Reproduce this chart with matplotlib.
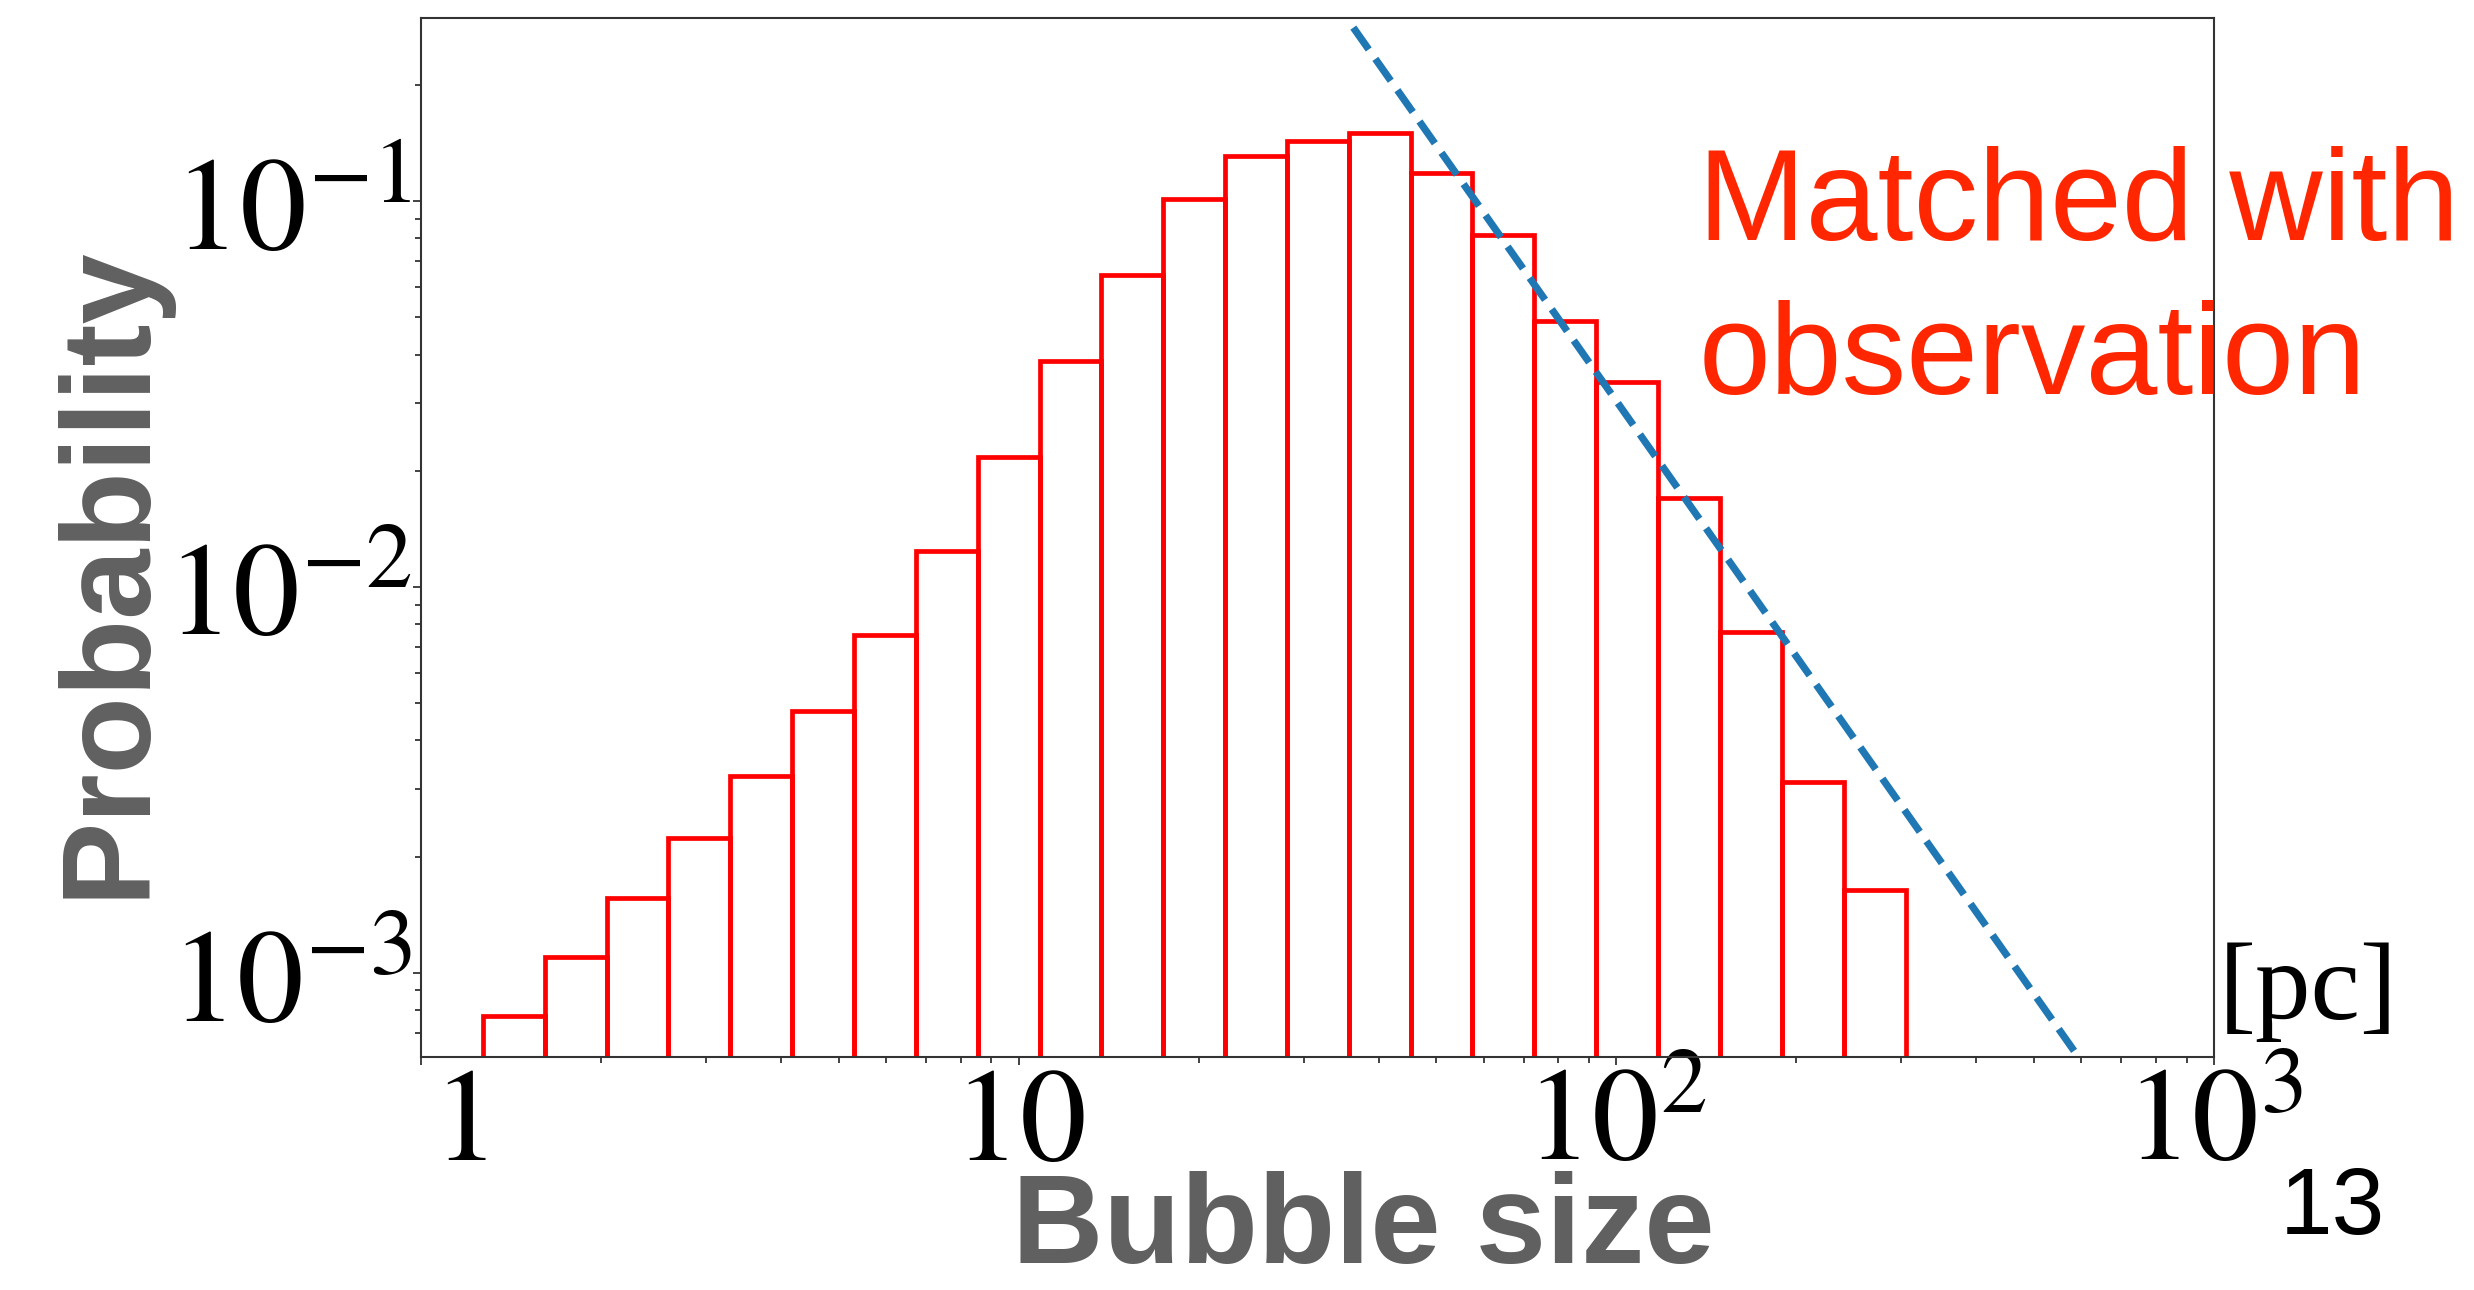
import numpy as np
import matplotlib
matplotlib.use("Agg")
import matplotlib.pyplot as plt
from matplotlib.ticker import LogLocator, NullFormatter
from matplotlib.transforms import ScaledTranslation

plt.rcParams['mathtext.fontset'] = 'stix'
plt.rcParams['font.family'] = ['Liberation Sans', 'DejaVu Sans']

# bubble size bins [pc], log spaced
bin_edges = [1.269, 1.611, 2.044, 2.594, 3.292, 4.178, 5.302, 6.728, 8.539,
             10.84, 13.75, 17.46, 22.15, 28.11, 35.67, 45.27, 57.45, 72.93,
             92.53, 117.4, 149.1, 189.2, 240.1, 304.7]
probability = [7.7e-4, 1.10e-3, 1.56e-3, 2.23e-3, 3.24e-3, 4.77e-3, 7.5e-3,
               1.24e-2, 2.17e-2, 3.84e-2, 6.43e-2, 0.101, 0.131, 0.143, 0.150,
               0.1185, 0.0816, 0.049, 0.0339, 0.0170, 7.65e-3, 3.13e-3, 1.64e-3]

# power-law guide (slope ~ -2.2 in log-log)
guide_size = [36.3, 600.0]
guide_prob = [0.2815, 5.9e-4]

x_ticks = [1, 10, 100, 1000]
x_tick_labels = ['$1$', '$10$', '$10^{2}$', '$10^{3}$']
y_ticks = [1e-3, 1e-2, 1e-1]
y_tick_labels = ['$10^{-3}$', '$10^{-2}$', '$10^{-1}$']

grey = '#606060'
note_red = '#ff2600'

fig = plt.figure(figsize=(24.74, 12.90), dpi=100)
ax = fig.add_axes([0.1702, 0.1806, 0.7247, 0.8054])

edges = np.array(bin_edges)
ax.bar(edges[:-1], probability, width=np.diff(edges), align='edge',
       bottom=1e-6, fill=False, edgecolor='#ff0000', linewidth=3.4)
ax.plot(guide_size, guide_prob, ls='--', color='#1f77b4', lw=5.2)

ax.set_xscale('log')
ax.set_yscale('log')
ax.set_xlim(1, 1000)
ax.set_ylim(6.05e-4, 0.298)

ax.set_xticks(x_ticks, x_tick_labels)
ax.set_yticks(y_ticks, y_tick_labels)
ax.xaxis.set_minor_locator(LogLocator(subs=np.arange(2, 10), numticks=50))
ax.yaxis.set_minor_locator(LogLocator(subs=np.arange(2, 10), numticks=50))
ax.xaxis.set_minor_formatter(NullFormatter())
ax.yaxis.set_minor_formatter(NullFormatter())

ax.tick_params(which='both', direction='out', top=False, right=False,
               color='#222222', width=1.2)
ax.tick_params(which='major', length=6, labelsize=96)
ax.tick_params(which='minor', length=4.5)
ax.tick_params(axis='x', which='major', pad=-2)
ax.tick_params(axis='y', which='major', pad=1)

for sp in ax.spines.values():
    sp.set_color('#333333')
    sp.set_linewidth(1.5)

# nudge the "1" label off the corner
lab0 = ax.get_xticklabels()[0]
lab0.set_transform(lab0.get_transform() + ScaledTranslation(0.38, 0, fig.dpi_scale_trans))

ax.set_xlabel('Bubble size', fontsize=91, fontweight='bold', color=grey, va='baseline')
ax.xaxis.set_label_coords(0.5254, -0.1985)
ax.set_ylabel('Probability', fontsize=91, fontweight='bold', color=grey, va='baseline')
ax.yaxis.set_label_coords(-0.1556, 0.468)

fig.text(1697.5 / 2474, 1 - 240 / 1290, 'Matched with', fontsize=93,
         color=note_red, ha='left', va='baseline')
fig.text(1699 / 2474, 1 - 394 / 1290, 'observation', fontsize=93,
         color=note_red, ha='left', va='baseline')
fig.text(2219 / 2474, 1 - 1019 / 1290, '[pc]', fontsize=80,
         family='Liberation Serif', ha='left', va='baseline')
fig.text(2280 / 2474, 1 - 1234 / 1290, '13', fontsize=68,
         ha='left', va='baseline')

fig.savefig('out.png', dpi=100)
